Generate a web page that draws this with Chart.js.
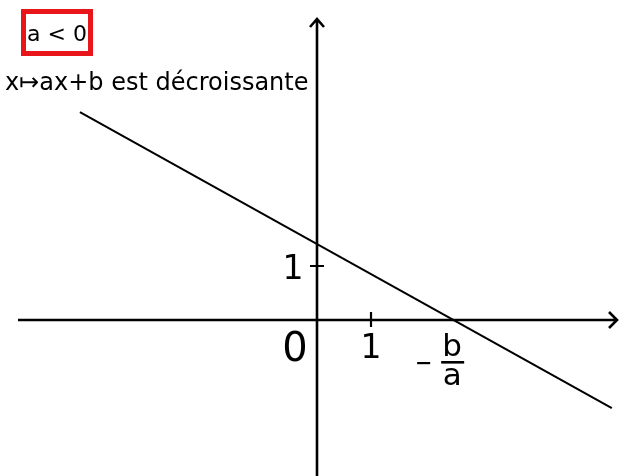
<!DOCTYPE html>
<html>
<head>
<meta charset="utf-8">
<script src="https://cdn.jsdelivr.net/npm/chart.js@4"></script>
<style>
  html, body { margin: 0; padding: 0; background: #fff; }
  #wrap { width: 624px; height: 476px; }
</style>
</head>
<body>
<div id="wrap"><canvas id="graph"></canvas></div>
<script>
// line y = ax + b, with a < 0 (values in axis units)
const lineX = [-4.39, 5.46];
const lineY = [3.85, -1.63];
const xTicks = [1];
const yTicks = [1];
const rootX = 2.54;
const caption = 'a < 0';
const title = 'x\u21A6ax+b est d\u00E9croissante';

const FONT = '"DejaVu Sans", sans-serif';

const axesPlugin = {
  id: 'axes',
  beforeDatasetsDraw(chart) {
    const ctx = chart.ctx;
    const xs = chart.scales.x, ys = chart.scales.y;
    const ox = xs.getPixelForValue(0), oy = ys.getPixelForValue(0);
    ctx.save();
    ctx.strokeStyle = '#000';
    ctx.lineWidth = 2.6;
    ctx.lineJoin = 'miter';
    // x axis
    ctx.beginPath();
    ctx.moveTo(18, oy); ctx.lineTo(616, oy);
    ctx.moveTo(609, oy - 8); ctx.lineTo(617, oy); ctx.lineTo(609, oy + 8);
    // y axis
    ctx.moveTo(ox, 476); ctx.lineTo(ox, 19);
    ctx.moveTo(ox - 7, 27); ctx.lineTo(ox, 19); ctx.lineTo(ox + 7, 27);
    ctx.stroke();
    // ticks
    ctx.lineWidth = 2.2;
    ctx.beginPath();
    xTicks.forEach(v => {
      const px = xs.getPixelForValue(v);
      ctx.moveTo(px, oy - 8); ctx.lineTo(px, oy + 7);
    });
    yTicks.forEach(v => {
      const py = ys.getPixelForValue(v);
      ctx.moveTo(ox - 7, py); ctx.lineTo(ox + 7, py);
    });
    ctx.stroke();

    ctx.fillStyle = '#000';
    ctx.textAlign = 'center';
    ctx.textBaseline = 'alphabetic';
    ctx.font = '33px ' + FONT;
    xTicks.forEach(v => ctx.fillText(String(v), xs.getPixelForValue(v), oy + 38));
    yTicks.forEach(v => ctx.fillText(String(v), ox - 24, ys.getPixelForValue(v) + 13));
    ctx.font = '40px ' + FONT;
    ctx.fillText('0', ox - 22, oy + 41);

    // -b/a label
    const rx = xs.getPixelForValue(rootX);
    ctx.font = '31px ' + FONT;
    ctx.fillText('b', rx - 2, oy + 36);
    ctx.fillText('a', rx - 2, oy + 65);
    ctx.fillRect(rx - 13, oy + 41, 23, 2.6);
    ctx.fillRect(rx - 37, oy + 42, 13, 2.2);

    // caption box
    ctx.strokeStyle = '#e8151b';
    ctx.lineWidth = 5;
    ctx.strokeRect(23.5, 11.5, 67, 42);
    ctx.font = '22px ' + FONT;
    ctx.fillText(caption, 57, 41);
    ctx.textAlign = 'left';
    ctx.font = '24px ' + FONT;
    ctx.fillText(title, 5, 90);
    ctx.restore();
  }
};

new Chart(document.getElementById('graph'), {
  type: 'scatter',
  data: {
    datasets: [{
      data: lineX.map((x, i) => ({ x: x, y: lineY[i] })),
      showLine: true,
      borderColor: '#000',
      borderWidth: 2,
      pointRadius: 0
    }]
  },
  options: {
    responsive: true,
    maintainAspectRatio: false,
    animation: false,
    layout: { padding: 0 },
    scales: {
      x: { type: 'linear', display: false, min: -317 / 54, max: 307 / 54 },
      y: { type: 'linear', display: false, min: -156 / 54, max: 320 / 54 }
    },
    plugins: { legend: { display: false }, tooltip: { enabled: false } }
  },
  plugins: [axesPlugin]
});
</script>
</body>
</html>
